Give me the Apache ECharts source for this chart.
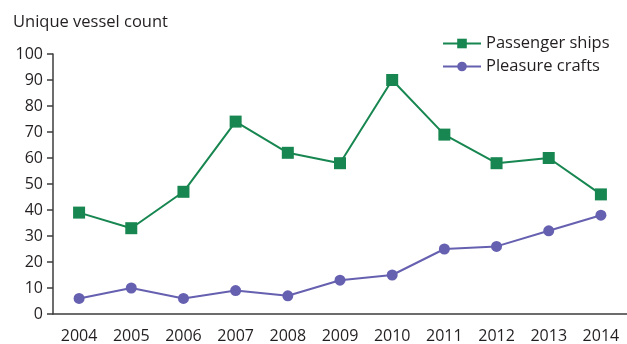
<!DOCTYPE html>
<html>
<head>
<meta charset="utf-8">
<script src="https://cdn.jsdelivr.net/npm/echarts@6/dist/echarts.min.js"></script>
<style>
  html, body { margin: 0; padding: 0; background: #fff; }
  #chart { width: 627px; height: 344px; }
</style>
</head>
<body>
<div id="chart"></div>
<script>
const years = ['2004', '2005', '2006', '2007', '2008', '2009', '2010', '2011', '2012', '2013', '2014']
const passengerShips = [39, 33, 47, 74, 62, 58, 90, 69, 58, 60, 46]
const pleasureCrafts = [6, 10, 6, 9, 7, 13, 15, 25, 26, 32, 38]

const textColor = '#231f20'
const axisColor = '#3d3d3d'
const font = 'Open Sans'

const chart = echarts.init(document.getElementById('chart'))
chart.setOption({
  animation: false,
  textStyle: { fontFamily: font },
  title: {
    text: 'Unique vessel count',
    left: 8,
    top: 9,
    textStyle: { fontFamily: font, fontSize: 16.5, fontWeight: 'normal', color: textColor }
  },
  legend: {
    orient: 'vertical',
    left: 437,
    top: 30,
    itemWidth: 38,
    itemHeight: 12,
    itemGap: 6,
    textStyle: { fontFamily: font, fontSize: 16.5, color: textColor },
    data: ['Passenger ships', 'Pleasure crafts']
  },
  grid: {
    left: 53,
    top: 54,
    width: 577,
    height: 260
  },
  xAxis: {
    type: 'category',
    data: years,
    boundaryGap: true,
    axisLine: { lineStyle: { color: axisColor, width: 1.5 } },
    axisTick: { alignWithLabel: true, length: 5, lineStyle: { color: axisColor, width: 1.5 } },
    axisLabel: { color: textColor, fontSize: 16, margin: 14, fontFamily: font }
  },
  yAxis: {
    type: 'value',
    min: 0,
    max: 100,
    interval: 10,
    axisLine: { show: true, lineStyle: { color: axisColor, width: 1.5 } },
    axisTick: { show: true, length: 6, lineStyle: { color: axisColor, width: 1.5 } },
    axisLabel: { color: textColor, fontSize: 16, margin: 10, fontFamily: font },
    splitLine: { show: false }
  },
  series: [
    {
      name: 'Passenger ships',
      type: 'line',
      data: passengerShips,
      symbol: 'rect',
      symbolSize: 12,
      color: '#178650',
      lineStyle: { width: 2, color: '#178650' },
      itemStyle: { color: '#178650' }
    },
    {
      name: 'Pleasure crafts',
      type: 'line',
      data: pleasureCrafts,
      symbol: 'circle',
      symbolSize: 11,
      color: '#6660b0',
      lineStyle: { width: 2, color: '#6660b0' },
      itemStyle: { color: '#6660b0' }
    }
  ]
})
</script>
</body>
</html>
